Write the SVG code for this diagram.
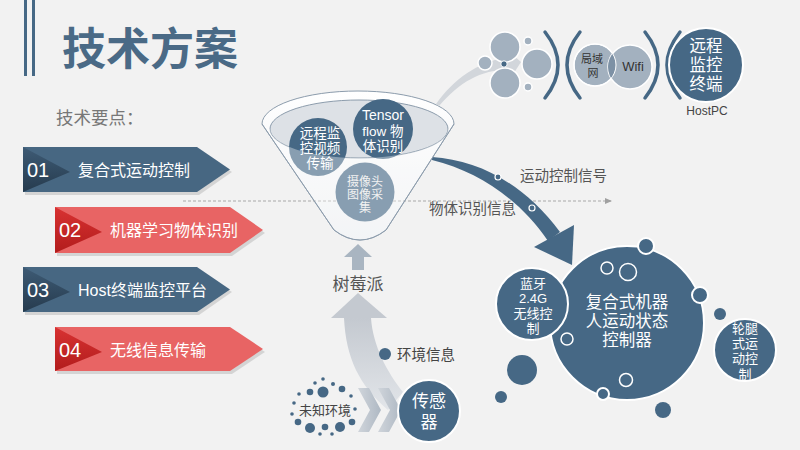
<svg xmlns="http://www.w3.org/2000/svg" width="800" height="450" viewBox="0 0 800 450">
<defs>
<style>
text{font-family:"Liberation Sans","Noto Sans CJK SC",sans-serif;}
.c{text-anchor:middle}
.w{fill:#fff}
.lab{fill:#555}
.num{font-size:20px;fill:#fff}
.bt{font-size:16px;fill:#fff}
.dk{fill:#466885}
.lt{fill:#a3b1bf;stroke:#fff;stroke-width:1.5}
.ring{fill:#466885;stroke:#fff;stroke-width:2}
.paren{fill:none;stroke:#466885;stroke-width:3.5;stroke-linecap:round}
.blue{fill:#476782}
.red{fill:#e86464}
.shadow{fill:#000;opacity:.12}
.hole{fill:none;stroke:#fff;stroke-width:1.5}
</style>
<linearGradient id="triB" x1="0" y1="0" x2="0" y2="1"><stop offset="0" stop-color="#3e5b75"/><stop offset="1" stop-color="#263b4e"/></linearGradient>
<linearGradient id="triR" x1="0" y1="0" x2="0" y2="1"><stop offset="0" stop-color="#d83232"/><stop offset="1" stop-color="#b21c1c"/></linearGradient>
<linearGradient id="funnelG" x1="0" y1="0" x2="0" y2="1"><stop offset="0" stop-color="#ffffff"/><stop offset="1" stop-color="#eceef1"/></linearGradient>
<linearGradient id="upG" x1="0" y1="0" x2="0" y2="1"><stop offset="0" stop-color="#c4c9d0"/><stop offset="1" stop-color="#e2e5e9"/></linearGradient>
<linearGradient id="chevG" x1="0" y1="0" x2="1" y2="0"><stop offset="0" stop-color="#d0d5db"/><stop offset="1" stop-color="#aeb8c3"/></linearGradient>
<clipPath id="lanClip"><circle cx="595" cy="65" r="21"/></clipPath>
<marker id="dashHead" markerWidth="8" markerHeight="8" refX="6" refY="4" orient="auto" markerUnits="userSpaceOnUse"><path d="M0,1 L7,4 L0,7 Z" fill="#a0a0a0"/></marker>
</defs>
<rect x="0" y="0" width="800" height="450" fill="#f2f2f2"/>

<g id="title">
<rect x="24" y="0" width="3" height="76" fill="#466885"/>
<rect x="32" y="0" width="3" height="76" fill="#466885"/>
<text x="62" y="65" font-size="44" font-weight="bold" fill="#4a6a86">技术方案</text>
<text x="56" y="124" font-size="17.5" fill="#777">技术要点：</text>
</g>

<g id="item01">
<polygon class="shadow" points="25,150 199,150 232,172 199,195 25,195"/>
<polygon class="blue" points="23,147 197,147 230,169.5 197,192 23,192"/>
<polygon fill="url(#triB)" points="23,147 70,172 23,192"/>
<text class="num" x="27" y="177">01</text>
<text class="bt" x="78" y="176">复合式运动控制</text>
</g>
<g id="item02">
<polygon class="shadow" points="57,210 232,210 265,233 232,256 57,256"/>
<polygon class="red" points="55,207 230,207 263,230 230,253 55,253"/>
<polygon fill="url(#triR)" points="55,207 102,232 55,253"/>
<text class="num" x="59" y="237">02</text>
<text class="bt" x="110" y="236">机器学习物体识别</text>
</g>
<g id="item03">
<polygon class="shadow" points="25,270 199,270 232,292 199,315 25,315"/>
<polygon class="blue" points="23,267 197,267 230,289.5 197,312 23,312"/>
<polygon fill="url(#triB)" points="23,267 70,292 23,312"/>
<text class="num" x="27" y="297">03</text>
<text class="bt" x="78" y="296">Host终端监控平台</text>
</g>
<g id="item04">
<polygon class="shadow" points="57,330 232,330 265,352 232,374 57,374"/>
<polygon class="red" points="55,327 230,327 263,349 230,371 55,371"/>
<polygon fill="url(#triR)" points="55,327 102,352 55,371"/>
<text class="num" x="59" y="357">04</text>
<text class="bt" x="110" y="356">无线信息传输</text>
</g>

<g id="funnel">
<path d="M262,124 L334,230 Q360,250 386,230 L454,124 A96,33 0 0 0 262,124 Z" fill="url(#funnelG)" stroke="#8c9cac" stroke-width="1"/>
<ellipse cx="359" cy="129" rx="89" ry="29" fill="#dde1e6" stroke="#8c9cac" stroke-width="1"/>
</g>

<g id="connectors">
<line x1="183" y1="201" x2="611" y2="201" stroke="#a8a8a8" stroke-width="1" stroke-dasharray="3,2" marker-end="url(#dashHead)"/>
<path d="M432,157 C480,160 525,185 560,232 L548,241 C520,200 480,172 432,160 Z" fill="#466885"/>
<polygon points="534,247 574,225 572,265" fill="#466885"/>
<circle cx="498" cy="177" r="3" fill="#466885" stroke="#fff" stroke-width="1.2"/>
<circle cx="532" cy="208" r="3" fill="#466885" stroke="#fff" stroke-width="1.2"/>
<path d="M436,104 C455,78 475,64 509,56 L512,69 C480,70 460,82 439,106 Z" fill="#d2d6db"/>
<polygon points="507,50 521,62 512,76" fill="#d2d6db"/>
<polygon points="358,244 344,257 372,257" fill="#a9b5c1"/>
<rect x="352" y="256" width="12" height="14" fill="#a9b5c1"/>
<path d="M344,318 C346,358 359,385 388,410 L403,392 C387,372 373,346 371,318 Z" fill="url(#upG)"/>
<polygon points="331,318 358,293 387,318" fill="#c4c9d0"/>
<polygon points="358,388 369,388 381,410 369,432 358,432 370,410" fill="url(#chevG)"/>
<polygon points="378,388 389,388 401,410 389,432 378,432 390,410" fill="url(#chevG)"/>
<text class="lab" x="520" y="181" font-size="14.5">运动控制信号</text>
<text class="lab" x="429" y="214" font-size="14.5">物体识别信息</text>
<text class="lab" x="358" y="290" font-size="17" text-anchor="middle">树莓派</text>
<circle cx="385" cy="354" r="6" fill="#466885"/>
<text x="397" y="360" font-size="14.5" fill="#444">环境信息</text>
</g>

<g id="node-video">
<circle cx="318" cy="147" r="29" class="dk"/>
</g>
<g id="node-tensor">
<circle cx="383" cy="129" r="30" class="dk"/>
</g>
<g id="node-camera">
<circle cx="365" cy="192" r="29.5" class="dk"/>
</g>
<path d="M262,124 L270,129 A89,29 0 0 0 448,129 L454,124 L386,230 Q360,250 334,230 Z" fill="#fff" opacity="0.36"/>
<path d="M262,124 L334,230 Q360,250 386,230 L454,124" fill="none" stroke="#8c9cac" stroke-width="1"/>
<g id="funnel-text" class="w" font-size="13.5">
<text class="c" x="320" y="138">远程监</text>
<text class="c" x="320" y="153">控视频</text>
<text class="c" x="320" y="168">传输</text>
<text class="c" x="383" y="120" font-size="14">Tensor</text>
<text class="c" x="383" y="136">flow 物</text>
<text class="c" x="383" y="151">体识别</text>
<text class="c" x="365" y="186" font-size="12" fill="#f2f2f2">摄像头</text>
<text class="c" x="365" y="199" font-size="12" fill="#f2f2f2">图像采</text>
<text class="c" x="365" y="212" font-size="12" fill="#f2f2f2">集</text>
</g>

<g id="node-cluster">
<circle class="lt" cx="505" cy="47" r="15"/>
<circle class="lt" cx="505" cy="83" r="15"/>
<circle class="lt" cx="485" cy="63" r="7"/>
<circle class="lt" cx="537" cy="64" r="15"/>
<circle class="lt" cx="528" cy="41" r="4"/>
<circle class="lt" cx="528" cy="87" r="4"/>
</g>
<circle cx="504" cy="64" r="3.2" fill="#466885" stroke="#fff" stroke-width="1"/>
<g id="waves">
<path class="paren" d="M545,32 Q571,65 545,98"/>
<path class="paren" d="M580,32 Q554,65 580,98"/>
<path class="paren" d="M645,32 Q671,65 645,98"/>
<path class="paren" d="M680,32 Q654,65 680,98"/>
</g>
<g id="node-lan">
<circle class="lt" cx="595" cy="65" r="21"/>
</g>
<g id="node-wifi">
<circle class="lt" cx="630" cy="67" r="22"/>
<circle cx="630" cy="67" r="22" fill="#7d91a5" clip-path="url(#lanClip)"/>
<circle cx="595" cy="65" r="21" fill="none" stroke="#fff" stroke-width="1"/>
<text class="c" x="592" y="63" font-size="11" fill="#333">局域</text>
<text class="c" x="593" y="77" font-size="11" fill="#333">网</text>
<text class="c" x="633" y="71" font-size="13" fill="#333">Wifi</text>
</g>
<g id="node-host">
<circle class="ring" cx="706" cy="65" r="37"/>
<text class="c w" x="706" y="52" font-size="16.5">远程</text>
<text class="c w" x="706" y="71" font-size="16.5">监控</text>
<text class="c w" x="706" y="89.5" font-size="16.5">终端</text>
<text class="c" x="707" y="115" font-size="12" fill="#444">HostPC</text>
</g>

<g id="node-env">
<g fill="#466885">
<circle cx="315" cy="383" r="1.8"/>
<circle cx="323" cy="379" r="1.8"/>
<circle cx="333" cy="384" r="2"/>
<circle cx="310" cy="392" r="3.3"/>
<circle cx="323" cy="392" r="5.5"/>
<circle cx="342" cy="389" r="3.3"/>
<circle cx="299" cy="394" r="1.8"/>
<circle cx="351" cy="396" r="1.8"/>
<circle cx="294" cy="403" r="1.8"/>
<circle cx="355" cy="409" r="1.8"/>
<circle cx="292" cy="414" r="1.8"/>
<circle cx="298" cy="422" r="3.3"/>
<circle cx="310" cy="428" r="5"/>
<circle cx="325" cy="427" r="3.3"/>
<circle cx="340" cy="427" r="5"/>
<circle cx="352" cy="422" r="3.3"/>
<circle cx="320" cy="434" r="1.8"/>
<circle cx="332" cy="434" r="1.8"/>
</g>
<text class="c" x="325" y="415" font-size="13" fill="#444">未知环境</text>
</g>

<g id="node-sensor">
<circle class="ring" cx="429" cy="411" r="31"/>
<text class="c w" x="429" y="407" font-size="17">传感</text>
<text class="c w" x="429" y="428" font-size="17">器</text>
</g>

<g id="node-controller">
<circle cx="522" cy="370" r="15" class="dk"/>
<circle cx="501" cy="397" r="6" class="dk"/>
<circle cx="663" cy="410" r="8" class="dk"/>
<circle cx="720" cy="314" r="6" class="dk"/>
<circle class="ring" cx="627" cy="323" r="77"/>
<circle class="ring" cx="646" cy="246" r="8"/>
<circle class="ring" cx="700" cy="295" r="8"/>
<circle class="hole" cx="607" cy="268" r="6"/>
<circle class="hole" cx="628" cy="272" r="8.5"/>
<circle class="hole" cx="567" cy="339" r="6"/>
<circle class="hole" cx="626" cy="380" r="6.5"/>
<circle class="ring" cx="603" cy="394" r="6"/>
<text class="c w" x="627" y="308" font-size="16.5">复合式机器</text>
<text class="c w" x="627" y="327" font-size="16.5">人运动状态</text>
<text class="c w" x="627" y="346" font-size="16.5">控制器</text>
</g>

<g id="node-bluetooth">
<circle class="ring" cx="532" cy="304" r="36"/>
<text class="c w" x="533" y="288" font-size="13">蓝牙</text>
<text class="c w" x="533" y="303" font-size="13">2.4G</text>
<text class="c w" x="533" y="318" font-size="13">无线控</text>
<text class="c w" x="533" y="333" font-size="13">制</text>
</g>

<g id="node-leg">
<circle class="ring" cx="745" cy="350" r="31"/>
<text class="c w" x="745" y="333" font-size="13">轮腿</text>
<text class="c w" x="745" y="348" font-size="13">式运</text>
<text class="c w" x="745" y="363" font-size="13">动控</text>
<text class="c w" x="745" y="379" font-size="13">制</text>
</g>
</svg>
